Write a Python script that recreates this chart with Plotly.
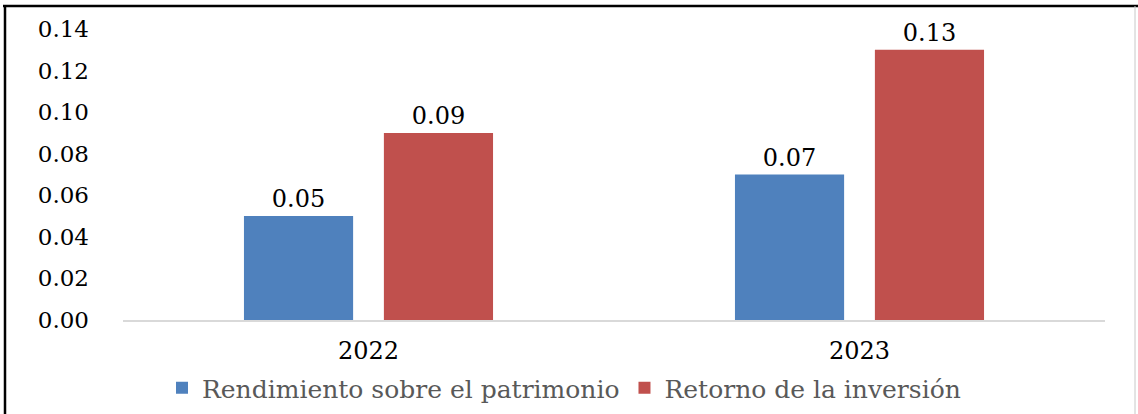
import plotly.graph_objects as go

years = ["2022", "2023"]
roe = [0.05, 0.07]
roi = [0.09, 0.13]
series_names = ["Rendimiento sobre el patrimonio", "Retorno de la inversión"]

BLUE = "#4F81BD"
RED = "#C0504D"
FONT = "DejaVu Serif"

fig = go.Figure()
for name, vals, color in [(series_names[0], roe, BLUE), (series_names[1], roi, RED)]:
    fig.add_trace(go.Bar(
        x=years,
        y=vals,
        name=name,
        marker=dict(color=color, line=dict(width=0)),
        text=[f"{v:.2f}" for v in vals],
        textposition="outside",
        textfont=dict(family=FONT, size=24, color="#000000"),
        cliponaxis=False,
    ))

# frame lines around the picture (as in the cropped source image)
W, H = 1138, 414
L, R, T, B = 123, 33, 29, 94
pw, ph = W - L - R, H - T - B


def px_x(p):
    return (p - L) / pw


def px_y(p):
    return (H - B - p) / ph


fig.add_shape(type="line", xref="paper", yref="paper",
              x0=px_x(3), x1=px_x(1140), y0=px_y(6), y1=px_y(6),
              line=dict(color="#000000", width=2.5))
fig.add_shape(type="line", xref="paper", yref="paper",
              x0=px_x(5), x1=px_x(5), y0=px_y(5), y1=px_y(416),
              line=dict(color="#000000", width=2.5))
fig.add_shape(type="line", xref="paper", yref="paper",
              x0=px_x(1135), x1=px_x(1135), y0=px_y(6), y1=px_y(416),
              line=dict(color="#C8C8C8", width=1))

fig.update_layout(
    width=W,
    height=H,
    barmode="group",
    bargap=0.43,
    bargroupgap=0.22,
    paper_bgcolor="#FFFFFF",
    plot_bgcolor="#FFFFFF",
    margin=dict(l=L, r=R, t=T, b=B, autoexpand=False),
    font=dict(family=FONT, size=22, color="#000000"),
    showlegend=True,
    legend=dict(
        orientation="h",
        x=px_x(564),
        xanchor="center",
        y=px_y(388),
        yanchor="middle",
        font=dict(family=FONT, size=25, color="#595959"),
        itemwidth=30,
        traceorder="normal",
    ),
    xaxis=dict(
        showline=True,
        linecolor="#D9D9D9",
        linewidth=1.5,
        showgrid=False,
        ticks="",
        ticklabelstandoff=8,
        automargin=False,
        tickfont=dict(family=FONT, size=24, color="#000000"),
    ),
    yaxis=dict(
        range=[0, 0.14],
        dtick=0.02,
        tickformat=".2f",
        showgrid=False,
        zeroline=False,
        showline=False,
        ticks="",
        ticklabelstandoff=33,
        automargin=False,
        tickfont=dict(family=FONT, size=23, color="#000000"),
    ),
)

fig.write_html(
    "out.html",
    config={"displayModeBar": False},
    post_script="document.body.style.margin='0';",
)
